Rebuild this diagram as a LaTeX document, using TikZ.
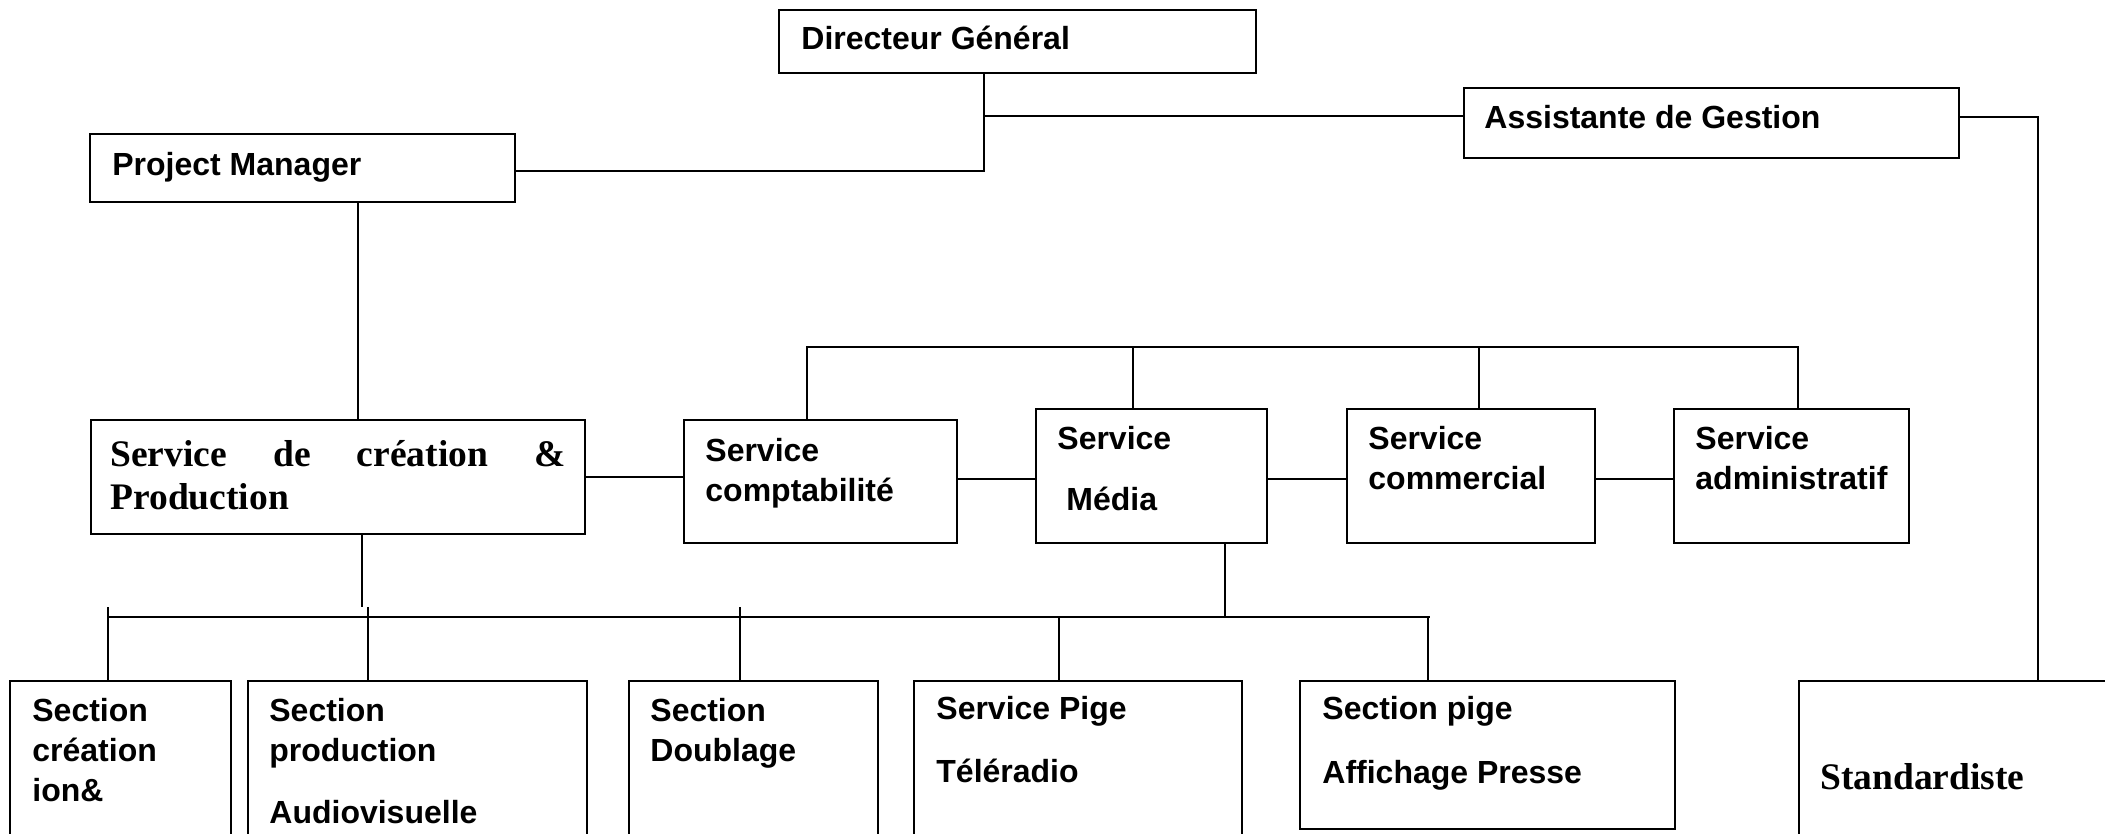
\documentclass[tikz,border=0pt]{standalone}
\usepackage{fontspec}
\setmainfont{Liberation Sans}
\newfontfamily\tms{Liberation Serif}
\begin{document}
\begin{tikzpicture}[x=0.5pt,y=-0.5pt,
  bx/.style n args={2}{draw, line width=1.2pt, inner sep=0pt, minimum width=#1*0.5pt, minimum height=#2*0.5pt},
  con/.style={line width=0.9pt},
  txt/.style={anchor=base west, inner sep=0pt, font=\bfseries\fontsize{16}{19}\selectfont},
  tt/.style={anchor=base west, inner sep=0pt, font=\tms\bfseries\fontsize{18.75}{22}\selectfont}]
\useasboundingbox (0,0) rectangle (2105,834);
\clip (0,0) rectangle (2105,834);
% boxes
\node[bx={477}{63}] (dg) at (1017.5,41.5) {};
\node[bx={495}{70}] (asst) at (1711.5,123) {};
\node[bx={425}{68}] (pm) at (302.5,168) {};
\node[bx={494}{114}] (scp) at (338,477) {};
\node[bx={273}{123}] (compt) at (820.5,481.5) {};
\node[bx={231}{134}] (media) at (1151.5,476) {};
\node[bx={248}{134}] (comm) at (1471,476) {};
\node[bx={235}{134}] (admin) at (1791.5,476) {};
\node[bx={221}{169}] (sc1) at (120.5,765.5) {};
\node[bx={339}{169}] (sc2) at (417.5,765.5) {};
\node[bx={249}{169}] (sc3) at (753.5,765.5) {};
\node[bx={328}{169}] (sc4) at (1078,765.5) {};
\node[bx={375}{148}] (sc5) at (1487.5,755) {};
\node[bx={321}{169}] (std) at (1959.5,765.5) {};
% texts
\node[txt] (t1) at (801,50) {Directeur Général};
\node[txt] (t2) at (1484,129) {Assistante de Gestion};
\node[txt] (t3) at (112,176) {Project Manager};
\node[tt] (t4a) at (110,466) {\hbox to 227.5pt{Service\hfill de\hfill création\hfill \&}};
\node[tt] (t4b) at (110,509) {Production};
\node[txt] (t5a) at (705,461) {Service};
\node[txt] (t5b) at (705,501) {comptabilité};
\node[txt] (t6a) at (1057,449) {Service};
\node[txt] (t6b) at (1066,510) {Média};
\node[txt] (t7a) at (1368,449) {Service};
\node[txt] (t7b) at (1368,489) {commercial};
\node[txt] (t8a) at (1695,449) {Service};
\node[txt] (t8b) at (1695,489) {administratif};
\node[txt] (t9a) at (32,721) {Section};
\node[txt] (t9b) at (32,761) {création};
\node[txt] (t9c) at (32,801) {ion\&};
\node[txt] (t10a) at (269,721) {Section};
\node[txt] (t10b) at (269,761) {production};
\node[txt] (t10c) at (269,823) {Audiovisuelle};
\node[txt] (t11a) at (650,721) {Section};
\node[txt] (t11b) at (650,761) {Doublage};
\node[txt] (t12a) at (936,719) {Service Pige};
\node[txt] (t12b) at (936,782) {Téléradio};
\node[txt] (t13a) at (1322,719) {Section pige};
\node[txt] (t13b) at (1322,783) {Affichage Presse};
\node[tt] (t14) at (1820,789) {Standardiste};
% junction coordinates
\coordinate (dgj) at (984,171);
\coordinate (aj) at (984,116);
\coordinate (ar) at (2038,117);
\coordinate (pmj) at (358,300);
\coordinate (b1) at (807,347);
\coordinate (b2) at (1133,347);
\coordinate (b3) at (1479,347);
\coordinate (b4) at (1798,347);
\coordinate (scpj) at (362,607);
\coordinate (k1) at (108,607);
\coordinate (k2) at (368,607);
\coordinate (k3) at (740,607);
\coordinate (bl) at (108,617);
\coordinate (br) at (1430,617);
\coordinate (mj) at (1225,617);
\coordinate (p4) at (1059,617);
\coordinate (p5) at (1428,617);
% connectors
\draw[con] (dg.south -| dgj) -- (dgj) -- (pm.east |- dgj);
\draw[con] (aj) -- (asst.west |- aj);
\draw[con] (asst.east |- ar) -- (ar) -- (std.north -| ar);
\draw[con] (pm.south -| pmj) -- (scp.north -| pmj);
\draw[con] (compt.north -| b1) -- (b1) -- (b4) -- (admin.north -| b4);
\draw[con] (b2) -- (media.north -| b2);
\draw[con] (b3) -- (comm.north -| b3);
\draw[con] (scp.east) -- (compt.west |- scp.east);
\draw[con] (compt.east |- 0,479) -- (media.west |- 0,479);
\draw[con] (media.east |- 0,479) -- (comm.west |- 0,479);
\draw[con] (comm.east |- 0,479) -- (admin.west |- 0,479);
\draw[con] (scp.south -| scpj) -- (scpj);
\draw[con] (bl) -- (br);
\draw[con] (media.south -| mj) -- (mj);
\draw[con] (k1) -- (sc1.north -| k1);
\draw[con] (k2) -- (sc2.north -| k2);
\draw[con] (k3) -- (sc3.north -| k3);
\draw[con] (p4) -- (sc4.north -| p4);
\draw[con] (p5) -- (sc5.north -| p5);
\end{tikzpicture}
\end{document}
